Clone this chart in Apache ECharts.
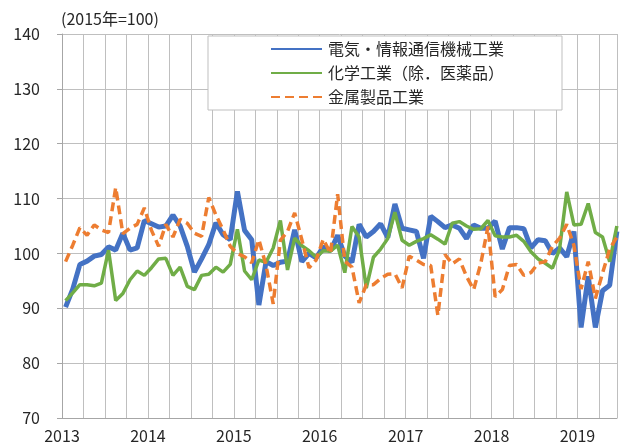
<!DOCTYPE html>
<html>
<head>
<meta charset="utf-8">
<script src="https://cdn.jsdelivr.net/npm/echarts@6/dist/echarts.min.js"></script>
<style>
  html, body { margin: 0; padding: 0; background: #fff; }
  #chart { width: 620px; height: 446px; }
</style>
</head>
<body>
<div id="chart"></div>
<script>
// 月次データ 2013年1月〜2019年6月 (2015年=100)
const startYear = 2013
const yearLabels = [2013, 2014, 2015, 2016, 2017, 2018, 2019]
const seriesNames = ['電気・情報通信機械工業', '化学工業（除．医薬品）', '金属製品工業']

const denki = [
  90.2, 93.5, 98, 98.6, 99.5, 99.8, 101.2, 100.6, 103.7, 100.6, 101, 106,
  105.4, 104.8, 105, 107, 105, 101.3, 96.6, 99, 101.6, 105.6, 103.4, 102.5,
  111.3, 104.2, 102.5, 90.6, 98.5, 97.8, 98.4, 98.6, 104.3, 98.5, 100, 99.2,
  101.2, 100.5, 103.3, 99.5, 98.4, 105.3, 103, 104, 105.4, 102.9, 109, 104.6,
  104.3, 104, 99.1, 106.8, 105.8, 104.7, 105.2, 104.6, 102.7, 105.2, 104.6, 104.6,
  105.9, 100.8, 104.7, 104.7, 104.5, 101, 102.5, 102.3, 100, 101, 99.4, 104,
  86.5, 95.8, 86.5, 93.2, 94.2, 104
]
const kagaku = [
  91.4, 92.8, 94.3, 94.3, 94.1, 94.6, 100.6, 91.4, 92.7, 95.2, 96.8, 96,
  97.4, 99, 99.1, 96, 97.5, 94, 93.4, 96, 96.2, 97.5, 96.6, 98,
  104.4, 96.8, 95.2, 98.8, 98.4, 101, 106, 97, 102.8, 101.4, 100.5, 99.3,
  100.5, 100.4, 101.5, 96.5, 104.9, 103, 93.7, 99.3, 100.8, 102.7, 107.5, 102.4,
  101.5, 102.2, 102.7, 103.4, 102.6, 101.7, 105.5, 105.8, 105, 104.4, 104.5, 106,
  103.2, 103, 103, 103.3, 102.2, 100.3, 99, 98.2, 97.3, 100.8, 111.2, 105.2,
  105.3, 109.1, 103.8, 103, 98.5, 105
]
const kinzoku = [
  98.5, 101.5, 104.7, 103.3, 105.2, 104.3, 103.8, 112, 103.6, 104.6, 105.3, 108.3,
  104.2, 101.3, 105.3, 103, 106.2, 105.5, 103.7, 103.1, 110.2, 107, 104.3, 101.3,
  100, 99.4, 98.3, 102.5, 97.8, 90.8, 102.4, 104, 107.4, 102.5, 97.4, 98.8,
  102.6, 100, 110.8, 98.6, 97.5, 91, 94.3, 94.3, 95.4, 96.2, 96.3, 93.7,
  99.5, 98.8, 98, 97.8, 88.7, 99.8, 98.1, 99, 95.8, 93.4, 98.2, 104.9,
  92.1, 93.4, 97.8, 98, 96, 96.5, 98.2, 98.5, 101.3, 102.8, 105.3, 101.5,
  93.5, 98.5, 91.8, 96.4, 100.8, 103
]

// 月の中央に点を置く
function toPoints (values) {
  return values.map((v, i) => [startYear + (i + 0.5) / 12, v])
}

const fontFamily = "'Noto Sans CJK JP', 'Noto Sans', sans-serif"
const textColor = '#262626'

const myChart = echarts.init(document.getElementById('chart'))
const option = {
  animation: false,
  textStyle: { fontFamily: fontFamily },
  graphic: [{
    type: 'text',
    left: 61,
    top: 11,
    style: { text: '(2015年=100)', font: '16px ' + fontFamily, fill: textColor }
  }],
  legend: {
    orient: 'vertical',
    left: 208,
    top: 36,
    padding: [5, 58, 5, 62],
    itemGap: 8,
    itemWidth: 51,
    itemHeight: 16,
    backgroundColor: '#fff',
    borderColor: '#bfbfbf',
    borderWidth: 1,
    // 凡例は線だけ表示（丸い記号は消す）
    itemStyle: { opacity: 0, borderWidth: 0 },
    textStyle: { fontSize: 16, color: textColor, fontFamily: fontFamily, padding: [0, 0, 0, 1] },
    data: seriesNames
  },
  grid: { left: 62, right: 0, top: 34, bottom: 28 },
  xAxis: {
    type: 'value',
    min: startYear,
    max: 2019.46,
    interval: 0.25,
    axisLine: { show: true, lineStyle: { color: '#a6a6a6', width: 1 } },
    axisTick: { show: false },
    splitLine: { show: true, lineStyle: { color: '#bfbfbf', width: 1 } },
    axisLabel: {
      fontSize: 16,
      color: textColor,
      margin: 10,
      formatter: function (v) {
        return yearLabels.indexOf(v) >= 0 ? String(v) : ''
      }
    }
  },
  yAxis: {
    type: 'value',
    min: 70,
    max: 140,
    interval: 10,
    axisLine: { show: true, lineStyle: { color: '#a6a6a6', width: 1 } },
    axisTick: { show: true, length: 5, lineStyle: { color: '#a6a6a6' } },
    splitLine: { lineStyle: { color: '#bfbfbf', width: 1 } },
    axisLabel: { fontSize: 16, color: textColor, margin: 22 }
  },
  series: [
    {
      name: seriesNames[0],
      type: 'line',
      data: toPoints(denki),
      symbol: 'none',
      color: '#4472c4',
      lineStyle: { color: '#4472c4', width: 5 }
    },
    {
      name: seriesNames[1],
      type: 'line',
      data: toPoints(kagaku),
      symbol: 'none',
      color: '#70ad47',
      lineStyle: { color: '#70ad47', width: 3.5 }
    },
    {
      name: seriesNames[2],
      type: 'line',
      data: toPoints(kinzoku),
      symbol: 'none',
      color: '#ed7d31',
      lineStyle: { color: '#ed7d31', width: 3.5, type: [9, 5] }
    }
  ]
}
myChart.setOption(option)
</script>
</body>
</html>
